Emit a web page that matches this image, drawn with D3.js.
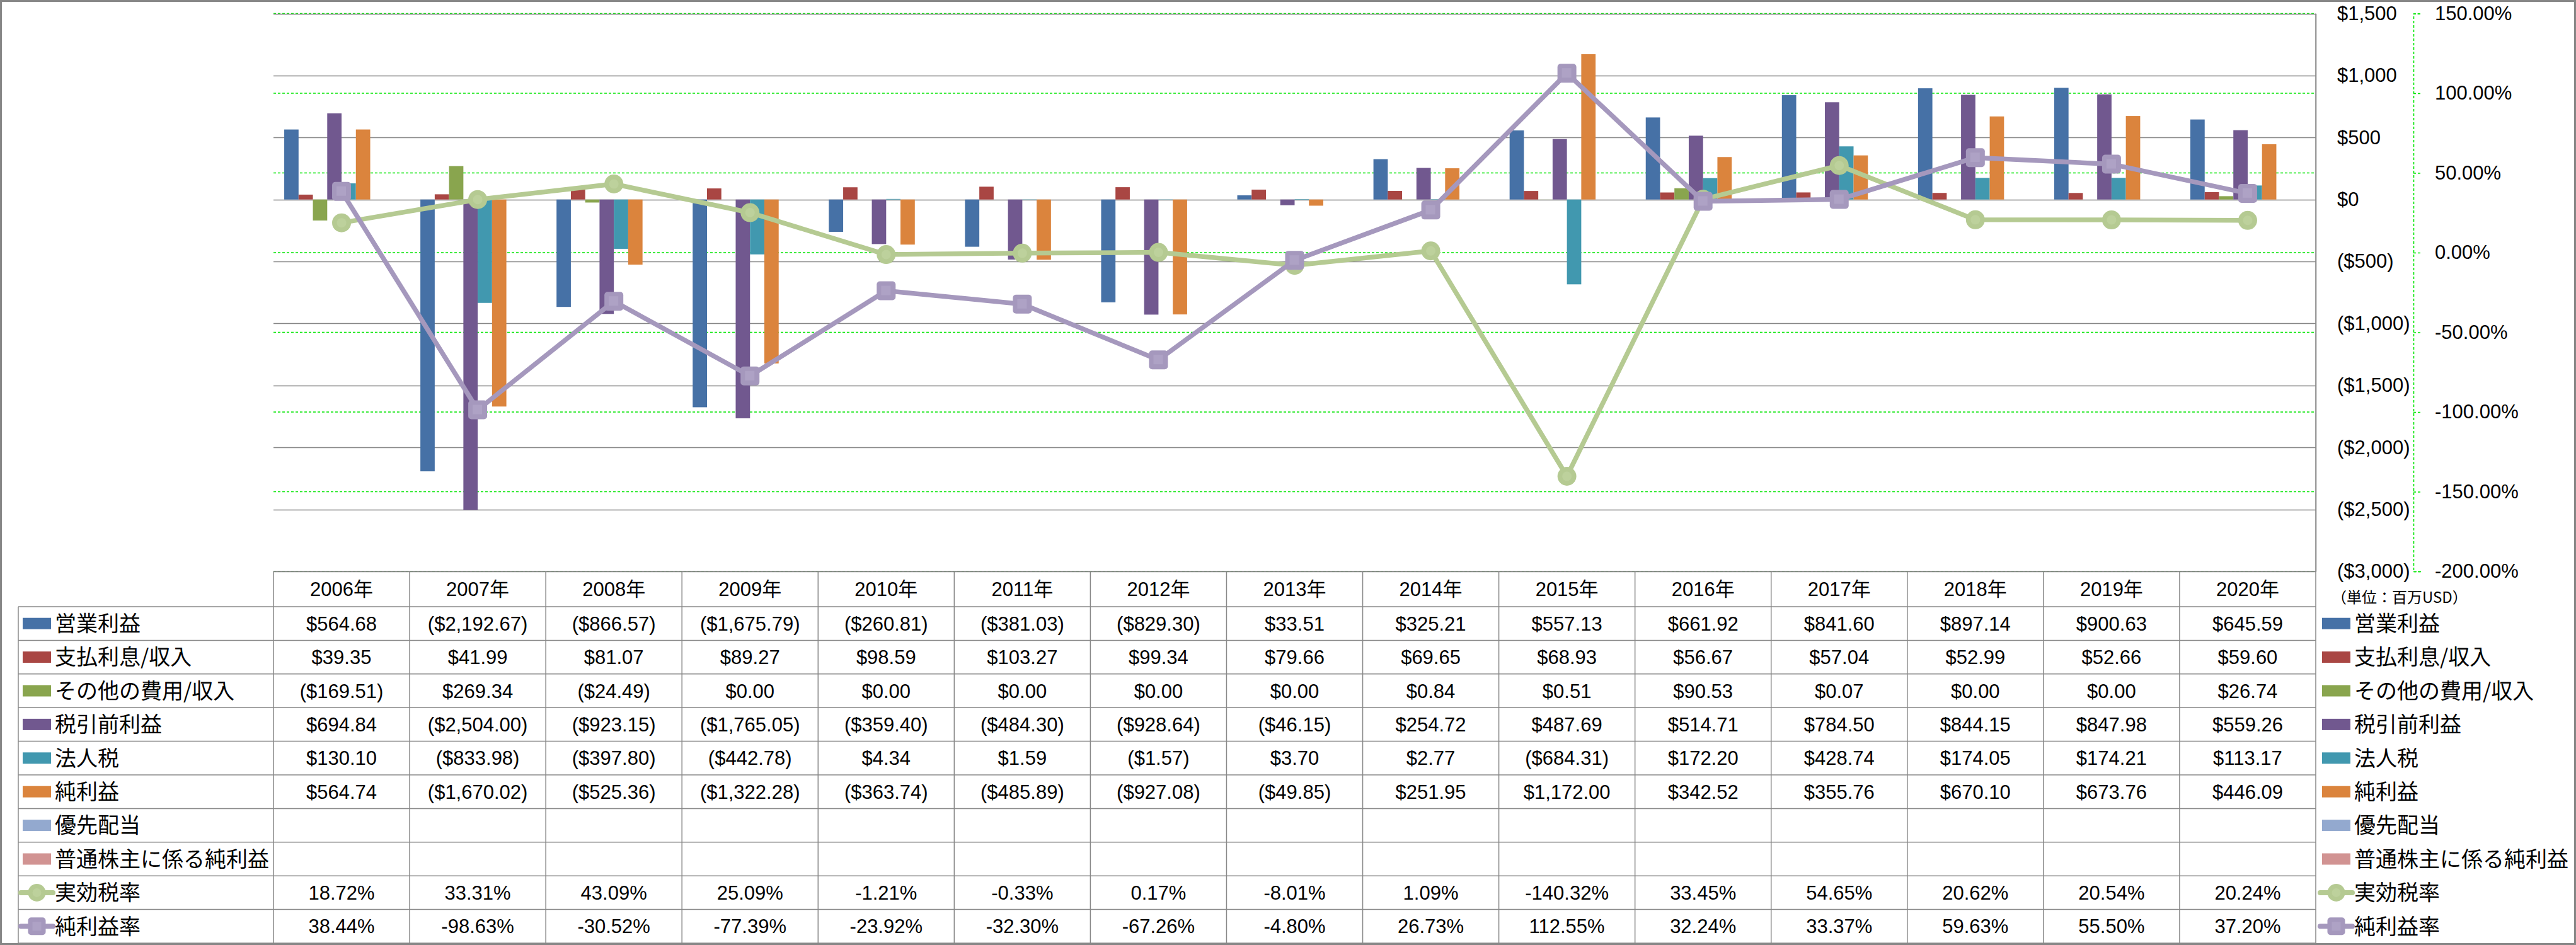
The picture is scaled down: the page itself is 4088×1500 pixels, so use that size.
<!DOCTYPE html>
<html>
<head>
<meta charset="utf-8">
<script src="https://cdn.jsdelivr.net/npm/d3@7"></script>
<style>
  html, body { margin: 0; padding: 0; background: #fff; }
  svg { display: block; }
  text { font-family: "Liberation Sans", "Noto Sans CJK JP", sans-serif; fill: #000; }
  .cjk { font-family: "Noto Sans CJK JP", sans-serif; }
</style>
</head>
<body>
<svg id="chart" width="4088" height="1500"></svg>
<script>
// ---------------- DATA ----------------
const years = ["2006年","2007年","2008年","2009年","2010年","2011年","2012年","2013年","2014年","2015年","2016年","2017年","2018年","2019年","2020年"];

const operatingIncome = [564.68, -2192.67, -866.57, -1675.79, -260.81, -381.03, -829.30, 33.51, 325.21, 557.13, 661.92, 841.60, 897.14, 900.63, 645.59];
const interestExpense = [39.35, 41.99, 81.07, 89.27, 98.59, 103.27, 99.34, 79.66, 69.65, 68.93, 56.67, 57.04, 52.99, 52.66, 59.60];
const otherExpense = [-169.51, 269.34, -24.49, 0.00, 0.00, 0.00, 0.00, 0.00, 0.84, 0.51, 90.53, 0.07, 0.00, 0.00, 26.74];
const preTaxIncome = [694.84, -2504.00, -923.15, -1765.05, -359.40, -484.30, -928.64, -46.15, 254.72, 487.69, 514.71, 784.50, 844.15, 847.98, 559.26];
const incomeTax = [130.10, -833.98, -397.80, -442.78, 4.34, 1.59, -1.57, 3.70, 2.77, -684.31, 172.20, 428.74, 174.05, 174.21, 113.17];
const netIncome = [564.74, -1670.02, -525.36, -1322.28, -363.74, -485.89, -927.08, -49.85, 251.95, 1172.00, 342.52, 355.76, 670.10, 673.76, 446.09];
const preferredDividends = [null, null, null, null, null, null, null, null, null, null, null, null, null, null, null];
const netIncomeCommon = [null, null, null, null, null, null, null, null, null, null, null, null, null, null, null];
const effectiveTaxRate = [18.72, 33.31, 43.09, 25.09, -1.21, -0.33, 0.17, -8.01, 1.09, -140.32, 33.45, 54.65, 20.62, 20.54, 20.24];
const netMargin = [38.44, -98.63, -30.52, -77.39, -23.92, -32.30, -67.26, -4.80, 26.73, 112.55, 32.24, 33.37, 59.63, 55.50, 37.20];

const barNames = ["営業利益","支払利息/収入","その他の費用/収入","税引前利益","法人税","純利益","優先配当","普通株主に係る純利益"];
const barValues = [operatingIncome, interestExpense, otherExpense, preTaxIncome, incomeTax, netIncome, preferredDividends, netIncomeCommon];
const barColors = ["#4671A6","#A94643","#89A54E","#71588F","#4198AF","#DB843D","#93A9CF","#D19392"];
const lineNames = ["実効税率","純利益率"];
const lineValues = [effectiveTaxRate, netMargin];
const lineColors = ["#B5CA92","#A598BD"];
const lineInner = ["#BDD19C","#AEA2C5"];
const lineMarkers = ["circle","square"];

const leftTicks = [1500, 1000, 500, 0, -500, -1000, -1500, -2000, -2500, -3000];
const rightTicks = [150, 100, 50, 0, -50, -100, -150, -200];
const unitLabel = "（単位：百万USD）";

// ---------------- LAYOUT ----------------
const W = 4088, H = 1500;
const plotL = 434, plotR = 3675, plotT = 21.5, plotB = 907;
const tableTop = 907, headerB = 963, tableB = 1497, labelL = 29;
const svg = d3.select("#chart");

const loc = d3.formatLocale({ decimal: ".", thousands: ",", grouping: [3], currency: ["$", ""], minus: "-" });

const x = d3.scaleBand().domain(years).range([plotL, plotR]).padding(0);
const xs = d3.scaleBand().domain(d3.range(barNames.length)).range([0, x.bandwidth()]).paddingInner(0).paddingOuter(0.75);
const yL = d3.scaleLinear().domain([-3000, 1500]).range([plotB, plotT]);
const yR = d3.scaleLinear().domain([-200, 150]).range([plotB, plotT]);

const fmtMoney = v => {
  const s = "$" + loc.format(",.2f")(Math.abs(v));
  return v < 0 ? "(" + s + ")" : s;
};
const fmtTick = v => {
  const s = "$" + loc.format(",")(Math.abs(v));
  return v < 0 ? "(" + s + ")" : s;
};
const fmtPct = v => loc.format(".2f")(v) + "%";

// outer border
svg.append("rect").attr("x", 1.5).attr("y", 1.5).attr("width", W - 3).attr("height", H - 3)
  .attr("fill", "#fff").attr("stroke", "#868686").attr("stroke-width", 3);

// green dashed percentage gridlines
svg.append("g").selectAll("line").data(rightTicks).join("line")
  .attr("x1", plotL).attr("x2", plotR)
  .attr("y1", d => yR(d)).attr("y2", d => yR(d))
  .attr("stroke", "#00E600").attr("stroke-width", 1.6).attr("stroke-dasharray", "4,3");

// gray gridlines
svg.append("g").selectAll("line").data(leftTicks).join("line")
  .attr("x1", plotL).attr("x2", plotR)
  .attr("y1", d => Math.round(yL(d)) + 0.5).attr("y2", d => Math.round(yL(d)) + 0.5)
  .attr("stroke", "#868686").attr("stroke-width", 1.5);

// bars
const barG = svg.append("g");
barValues.forEach((vals, si) => {
  barG.append("g").selectAll("rect")
    .data(vals.map((v, i) => ({ v, i })).filter(d => d.v !== null && d.v !== 0))
    .join("rect")
    .attr("x", d => x(years[d.i]) + xs(si))
    .attr("width", xs.bandwidth())
    .attr("y", d => Math.min(yL(d.v), yL(0)))
    .attr("height", d => Math.abs(yL(d.v) - yL(0)))
    .attr("fill", barColors[si]);
});

// left ($) axis on the right side
const axL = svg.append("g").attr("transform", `translate(${plotR},0)`)
  .call(d3.axisRight(yL).tickValues(leftTicks).tickFormat(fmtTick).tickSize(0).tickPadding(34));
axL.select(".domain").attr("stroke", "#868686").attr("stroke-width", 1.5);
axL.selectAll("text").attr("font-size", 31)
  .style("font-family", '"Liberation Sans", sans-serif')
  .attr("fill", d => d < 0 ? "#FF0000" : "#000");

// right (%) axis
const axR = svg.append("g").attr("transform", "translate(3830,0)")
  .call(d3.axisRight(yR).tickValues(rightTicks).tickFormat(fmtPct).tickSize(12).tickPadding(22));
axR.select(".domain").attr("stroke", "#00E600").attr("stroke-width", 1.6).attr("stroke-dasharray", "4,3");
axR.selectAll(".tick line").attr("stroke", "#00E600").attr("stroke-width", 1.6).attr("stroke-dasharray", "4,3");
axR.selectAll("text").attr("font-size", 31)
  .style("font-family", '"Liberation Sans", sans-serif')
  .attr("fill", d => d < 0 ? "#FF0000" : "#000");

// lines
function drawMarker(g, type, cx, cy, size, color, inner) {
  if (type === "circle") {
    g.append("circle").attr("cx", cx).attr("cy", cy).attr("r", size / 2).attr("fill", color);
    g.append("circle").attr("cx", cx).attr("cy", cy).attr("r", size / 4).attr("fill", inner);
  } else {
    g.append("rect").attr("x", cx - size / 2).attr("y", cy - size / 2).attr("width", size).attr("height", size)
      .attr("rx", 5).attr("fill", color);
    g.append("rect").attr("x", cx - size / 2 + 7).attr("y", cy - size / 2 + 7).attr("width", size / 2).attr("height", size / 2)
      .attr("fill", inner);
  }
}
lineValues.forEach((vals, li) => {
  const g = svg.append("g");
  const line = d3.line().x((d, i) => x(years[i]) + x.bandwidth() / 2).y(d => yR(d));
  g.append("path").datum(vals).attr("d", line)
    .attr("fill", "none").attr("stroke", lineColors[li]).attr("stroke-width", 7.5)
    .attr("stroke-linejoin", "round");
  vals.forEach((v, i) => drawMarker(g, lineMarkers[li], x(years[i]) + x.bandwidth() / 2, yR(v), 30, lineColors[li], lineInner[li]));
});

// ---------------- DATA TABLE ----------------
const rowNames = barNames.concat(lineNames);
const rowData = barValues.concat(lineValues);
const nRows = rowNames.length;
const rowH = (tableB - headerB) / nRows;
const rowY = i => headerB + i * rowH;
const tg = svg.append("g");
const lineStyle = s => s.attr("stroke", "#888").attr("stroke-width", 1.5);

// horizontal lines
tg.append("line").attr("x1", plotL).attr("x2", plotR).attr("y1", tableTop).attr("y2", tableTop).call(lineStyle);
d3.range(nRows + 1).forEach(i => {
  tg.append("line").attr("x1", labelL).attr("x2", plotR).attr("y1", rowY(i)).attr("y2", rowY(i)).call(lineStyle);
});
// vertical lines
tg.append("line").attr("x1", labelL).attr("x2", labelL).attr("y1", headerB).attr("y2", tableB).call(lineStyle);
years.forEach((yr, i) => {
  tg.append("line").attr("x1", x(yr)).attr("x2", x(yr)).attr("y1", tableTop).attr("y2", tableB).call(lineStyle);
});
tg.append("line").attr("x1", plotR).attr("x2", plotR).attr("y1", plotT).attr("y2", tableB).call(lineStyle);

// header
tg.selectAll("text.hdr").data(years).join("text").attr("class", "hdr")
  .attr("x", d => x(d) + x.bandwidth() / 2).attr("y", (tableTop + headerB) / 2)
  .attr("dy", "0.36em").attr("text-anchor", "middle").attr("font-size", 31).text(d => d);

// legend key helper
function drawKey(g, idx, kx, cy) {
  if (idx < barNames.length) {
    g.append("rect").attr("x", kx).attr("y", cy - 9).attr("width", 45).attr("height", 18).attr("fill", barColors[idx]);
  } else {
    const li = idx - barNames.length;
    g.append("line").attr("x1", kx - 3).attr("x2", kx + 48).attr("y1", cy).attr("y2", cy)
      .attr("stroke", lineColors[li]).attr("stroke-width", 8).attr("stroke-linecap", "round");
    drawMarker(g, lineMarkers[li], kx + 22.5, cy, 28, lineColors[li], lineInner[li]);
  }
}

rowNames.forEach((name, r) => {
  const cy = rowY(r) + rowH / 2;
  drawKey(tg, r, 36, cy);
  tg.append("text").attr("class", "cjk").attr("x", 87).attr("y", cy).attr("dy", "0.36em")
    .attr("font-size", 34).text(name);
  const isPct = r >= barNames.length;
  rowData[r].forEach((v, i) => {
    if (v === null) return;
    tg.append("text").attr("x", x(years[i]) + x.bandwidth() / 2).attr("y", cy).attr("dy", "0.36em")
      .attr("text-anchor", "middle").attr("font-size", 31)
      .text(isPct ? fmtPct(v) : fmtMoney(v));
  });
  // right legend
  drawKey(tg, r, 3685, cy);
  tg.append("text").attr("class", "cjk").attr("x", 3736).attr("y", cy).attr("dy", "0.36em")
    .attr("font-size", 34).text(name);
});

// unit label
svg.append("text").attr("class", "cjk").attr("x", 3700).attr("y", 948).attr("dy", "0.36em")
  .attr("font-size", 24).text(unitLabel);
</script>
</body>
</html>
